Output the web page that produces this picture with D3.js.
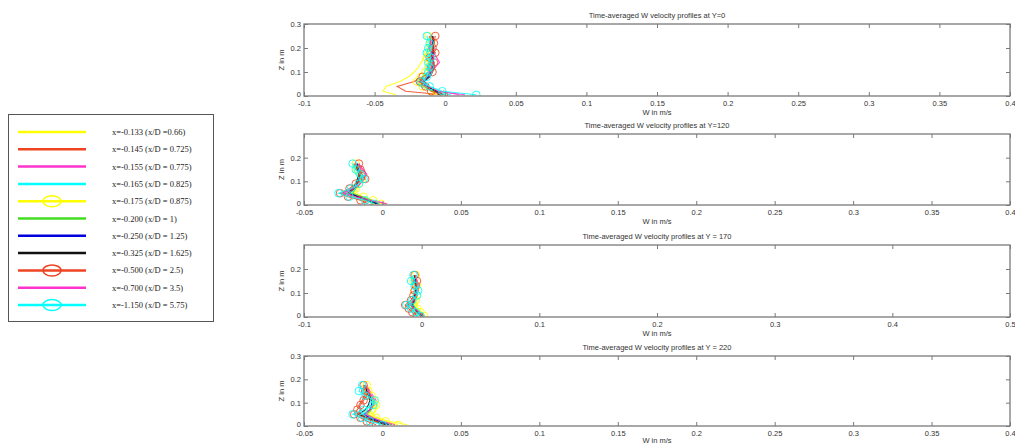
<!DOCTYPE html>
<html><head><meta charset="utf-8">
<script src="https://cdn.jsdelivr.net/npm/d3@7"></script>
<style>body{margin:0;background:#fff}svg{display:block}</style>
</head><body>
<svg id="c" width="1015" height="445"></svg>
<script>
// ---- data ----
const seriesLabels = ["x=-0.133 (x/D =0.66)","x=-0.145 (x/D = 0.725)","x=-0.155 (x/D = 0.775)","x=-0.165 (x/D = 0.825)","x=-0.175 (x/D = 0.875)","x=-0.200 (x/D = 1)","x=-0.250 (x/D = 1.25)","x=-0.325 (x/D = 1.625)","x=-0.500 (x/D = 2.5)","x=-0.700 (x/D = 3.5)","x=-1.150 (x/D = 5.75)"];
const seriesColors = ["#ffff00","#ee4422","#ff33cc","#00ffff","#ffff00","#44dd22","#0000dd","#111111","#ee4422","#ff33cc","#00ffff"];
const seriesMarkers = [false,false,false,false,true,false,false,false,true,false,true];

const panelTitles = ["Time-averaged W velocity profiles at Y=0","Time-averaged W velocity profiles at Y=120","Time-averaged W velocity profiles at Y = 170","Time-averaged W velocity profiles at Y = 220"];
const xDomains = [[-0.1,0.4],[-0.05,0.4],[-0.1,0.5],[-0.05,0.4]];
const xTicks0 = [-0.1,-0.05,0,0.05,0.1,0.15,0.2,0.25,0.3,0.35,0.4];
const xTicks1 = [-0.05,0,0.05,0.1,0.15,0.2,0.25,0.3,0.35,0.4];
const xTicks2 = [-0.1,0,0.1,0.2,0.3,0.4,0.5];
const xTicks3 = [-0.05,0,0.05,0.1,0.15,0.2,0.25,0.3,0.35,0.4];
const yTicksFull = [0,0.1,0.2,0.3];
const yTicksShort = [0,0.1,0.2];

const zY0 = [0.005,0.02,0.04,0.06,0.08,0.10,0.12,0.14,0.16,0.18,0.20,0.22,0.25];
const zOther = [0.005,0.02,0.035,0.05,0.07,0.09,0.11,0.13,0.15,0.175];

const wY0 = [
 [-0.035,-0.044,-0.042,-0.032,-0.026,-0.022,-0.019,-0.017,-0.015,-0.013,-0.012,-0.011,-0.010],
 [-0.002,-0.028,-0.034,-0.022,-0.016,-0.012,-0.011,-0.010,-0.012,-0.010,-0.009,-0.009,-0.008],
 [0.014,-0.006,-0.016,-0.019,-0.013,-0.010,-0.007,-0.004,-0.006,-0.008,-0.009,-0.010,-0.011],
 [0.004,-0.008,-0.018,-0.020,-0.014,-0.012,-0.011,-0.010,-0.011,-0.010,-0.012,-0.011,-0.010],
 [-0.006,-0.010,-0.016,-0.020,-0.017,-0.014,-0.012,-0.011,-0.013,-0.012,-0.011,-0.010,-0.012],
 [0.000,-0.008,-0.015,-0.018,-0.012,-0.011,-0.012,-0.010,-0.011,-0.009,-0.010,-0.011,-0.010],
 [-0.002,-0.006,-0.013,-0.017,-0.012,-0.010,-0.009,-0.009,-0.010,-0.009,-0.008,-0.009,-0.009],
 [-0.004,-0.007,-0.012,-0.015,-0.011,-0.009,-0.008,-0.008,-0.009,-0.008,-0.009,-0.008,-0.009],
 [-0.001,-0.010,-0.014,-0.018,-0.016,-0.009,-0.010,-0.008,-0.011,-0.007,-0.009,-0.008,-0.007],
 [0.010,-0.004,-0.012,-0.016,-0.013,-0.011,-0.010,-0.009,-0.008,-0.010,-0.011,-0.010,-0.011],
 [0.022,-0.002,-0.011,-0.017,-0.013,-0.012,-0.011,-0.012,-0.010,-0.013,-0.012,-0.011,-0.013]
];
const wY120 = [
 [0.000,-0.008,-0.016,-0.020,-0.016,-0.015,-0.014,-0.015,-0.016,-0.017],
 [-0.004,-0.012,-0.020,-0.026,-0.020,-0.016,-0.013,-0.014,-0.017,-0.018],
 [0.003,-0.006,-0.014,-0.022,-0.018,-0.014,-0.012,-0.010,-0.012,-0.016],
 [-0.002,-0.010,-0.018,-0.024,-0.019,-0.016,-0.015,-0.017,-0.018,-0.019],
 [-0.001,-0.006,-0.012,-0.018,-0.017,-0.015,-0.013,-0.014,-0.016,-0.017],
 [-0.002,-0.007,-0.013,-0.019,-0.017,-0.016,-0.014,-0.015,-0.016,-0.016],
 [-0.003,-0.009,-0.015,-0.021,-0.018,-0.016,-0.015,-0.014,-0.015,-0.016],
 [-0.004,-0.010,-0.016,-0.022,-0.019,-0.017,-0.016,-0.015,-0.016,-0.017],
 [-0.009,-0.014,-0.022,-0.027,-0.021,-0.017,-0.011,-0.013,-0.014,-0.015],
 [0.002,-0.008,-0.017,-0.025,-0.019,-0.014,-0.012,-0.011,-0.013,-0.015],
 [-0.005,-0.011,-0.021,-0.028,-0.020,-0.015,-0.012,-0.014,-0.017,-0.019]
];
const wY170 = [
 [0.003,0.000,-0.003,-0.005,-0.004,-0.004,-0.005,-0.005,-0.006,-0.006],
 [-0.002,-0.006,-0.009,-0.012,-0.008,-0.006,-0.004,-0.005,-0.006,-0.005],
 [0.001,-0.003,-0.006,-0.009,-0.006,-0.005,-0.004,-0.003,-0.005,-0.006],
 [0.000,-0.004,-0.008,-0.011,-0.007,-0.005,-0.003,-0.005,-0.008,-0.007],
 [0.002,-0.001,-0.004,-0.007,-0.005,-0.004,-0.006,-0.004,-0.007,-0.005],
 [0.001,-0.002,-0.005,-0.007,-0.006,-0.005,-0.005,-0.004,-0.005,-0.006],
 [0.000,-0.003,-0.006,-0.008,-0.006,-0.005,-0.005,-0.005,-0.005,-0.006],
 [-0.001,-0.004,-0.006,-0.008,-0.007,-0.006,-0.005,-0.005,-0.006,-0.006],
 [-0.004,-0.008,-0.011,-0.014,-0.009,-0.007,-0.006,-0.005,-0.004,-0.006],
 [0.002,-0.002,-0.006,-0.010,-0.007,-0.005,-0.004,-0.003,-0.004,-0.005],
 [-0.001,-0.005,-0.009,-0.013,-0.008,-0.004,-0.003,-0.006,-0.009,-0.007]
];
const wY220 = [
 [0.016,0.004,-0.003,-0.006,-0.004,-0.003,-0.006,-0.008,-0.010,-0.011],
 [0.002,-0.006,-0.012,-0.016,-0.014,-0.015,-0.013,-0.011,-0.012,-0.012],
 [0.006,-0.002,-0.008,-0.012,-0.008,-0.005,-0.004,-0.006,-0.008,-0.010],
 [0.004,-0.004,-0.010,-0.014,-0.010,-0.007,-0.005,-0.008,-0.012,-0.011],
 [0.010,0.002,-0.004,-0.009,-0.007,-0.004,-0.005,-0.007,-0.009,-0.010],
 [0.006,-0.001,-0.006,-0.010,-0.007,-0.006,-0.006,-0.008,-0.009,-0.011],
 [0.004,-0.002,-0.008,-0.012,-0.008,-0.007,-0.007,-0.008,-0.010,-0.011],
 [0.002,-0.004,-0.010,-0.015,-0.011,-0.009,-0.008,-0.009,-0.010,-0.011],
 [-0.004,-0.010,-0.014,-0.018,-0.016,-0.014,-0.012,-0.010,-0.011,-0.012],
 [0.008,0.000,-0.006,-0.011,-0.008,-0.006,-0.005,-0.007,-0.009,-0.011],
 [0.000,-0.008,-0.013,-0.019,-0.012,-0.006,-0.005,-0.011,-0.015,-0.013]
];

// ---- layout ----
const svg = d3.select("#c");
const font = "'Liberation Sans', Arial, sans-serif";
const panels = [
  {top:24, bottom:96, xd:xDomains[0], xt:xTicks0, yt:yTicksFull, z:zY0, w:wY0, title:panelTitles[0]},
  {top:134, bottom:205, xd:xDomains[1], xt:xTicks1, yt:yTicksShort, z:zOther, w:wY120, title:panelTitles[1]},
  {top:245, bottom:317, xd:xDomains[2], xt:xTicks2, yt:yTicksShort, z:zOther, w:wY170, title:panelTitles[2]},
  {top:356, bottom:426, xd:xDomains[3], xt:xTicks3, yt:yTicksFull, z:zOther, w:wY220, title:panelTitles[3]}
];
const L = 304, R = 1010;
const axisCol = "#7a7a7a", textCol = "#333";
const fmt = v => (v===0 ? "0" : String(+v.toFixed(3)));

panels.forEach(p => {
  const x = d3.scaleLinear().domain(p.xd).range([L, R]);
  const y = d3.scaleLinear().domain([0, 0.3]).range([p.bottom, p.top]);
  const g = svg.append("g");
  const clipId = "clip" + p.top;
  g.append("clipPath").attr("id", clipId).append("rect")
    .attr("x", L).attr("y", p.top - 6).attr("width", R - L).attr("height", p.bottom - p.top + 6);
  const plot = g.append("g").attr("clip-path", `url(#${clipId})`);
  const line = d3.line().x(d => x(d[0])).y(d => y(d[1]));
  p.w.forEach((ws, i) => {
    const pts = ws.map((v, k) => [v, p.z[k]]);
    plot.append("path").attr("d", line(pts)).attr("fill", "none")
      .attr("stroke", seriesColors[i]).attr("stroke-width", 1.1).attr("opacity", 0.85);
    if (seriesMarkers[i]) {
      plot.selectAll(null).data(pts).enter().append("circle")
        .attr("cx", d => x(d[0])).attr("cy", d => y(d[1])).attr("r", 3.8)
        .attr("fill", "none").attr("stroke", seriesColors[i]).attr("stroke-width", 1).attr("opacity", 0.85);
    }
  });
  // frame
  g.append("rect").attr("x", L).attr("y", p.top).attr("width", R - L).attr("height", p.bottom - p.top)
    .attr("fill", "none").attr("stroke", axisCol).attr("stroke-width", 1.3);
  // axes
  const xb = d3.axisBottom(x).tickValues(p.xt).tickSize(-4).tickPadding(3).tickFormat(fmt);
  const gx = g.append("g").attr("transform", `translate(0,${p.bottom})`).call(xb);
  const xtTop = d3.axisTop(x).tickValues(p.xt).tickSize(-4).tickFormat("");
  const gxt = g.append("g").attr("transform", `translate(0,${p.top})`).call(xtTop);
  const yl = d3.axisLeft(y).tickValues(p.yt).tickSize(-4).tickPadding(3).tickFormat(fmt);
  const gy = g.append("g").attr("transform", `translate(${L},0)`).call(yl);
  const yr = d3.axisRight(y).tickValues(p.yt).tickSize(-4).tickFormat("");
  const gyr = g.append("g").attr("transform", `translate(${R},0)`).call(yr);
  [gx, gxt, gy, gyr].forEach(a => {
    a.select(".domain").remove();
    a.selectAll("line").attr("stroke", axisCol);
    a.selectAll("text").attr("fill", textCol).style("font-family", font).style("font-size", "7.5px");
  });
  gx.selectAll("text").attr("y", 5).attr("dy", "0.71em");
  gy.selectAll("text").filter(d => d === 0).attr("dy", "0.1em");
  // title & labels
  g.append("text").attr("x", 657).attr("y", p.top - 6).attr("text-anchor", "middle")
    .attr("fill", textCol).style("font-family", font).style("font-size", "7.5px").text(p.title);
  g.append("text").attr("x", 657).attr("y", Math.min(p.bottom + 19, 443)).attr("text-anchor", "middle")
    .attr("fill", textCol).style("font-family", font).style("font-size", "7.5px").text("W in m/s");
  g.append("text").attr("transform", `translate(284,${(p.top + p.bottom) / 2}) rotate(-90)`)
    .attr("text-anchor", "middle").attr("fill", textCol)
    .style("font-family", font).style("font-size", "7.5px").text("Z in m");
});

// ---- legend ----
const lg = svg.append("g");
lg.append("rect").attr("x", 8.5).attr("y", 114.5).attr("width", 205).attr("height", 207)
  .attr("fill", "#fff").attr("stroke", "#555").attr("stroke-width", 1);
const rowY = d3.scaleLinear().domain([0, seriesLabels.length - 1]).range([132, 305]);
seriesLabels.forEach((lab, i) => {
  const yy = rowY(i);
  lg.append("line").attr("x1", 18).attr("x2", 86).attr("y1", yy).attr("y2", yy)
    .attr("stroke", seriesColors[i]).attr("stroke-width", 2.5);
  if (seriesMarkers[i]) {
    lg.append("ellipse").attr("cx", 52).attr("cy", yy).attr("rx", 9).attr("ry", 5.5)
      .attr("fill", "none").attr("stroke", seriesColors[i]).attr("stroke-width", 1.5);
  }
  lg.append("text").attr("x", 112).attr("y", yy + 3).attr("fill", "#222")
    .style("font-family", "'Liberation Serif', 'Times New Roman', serif").style("font-size", "8.5px").text(lab);
});
</script>
</body></html>
